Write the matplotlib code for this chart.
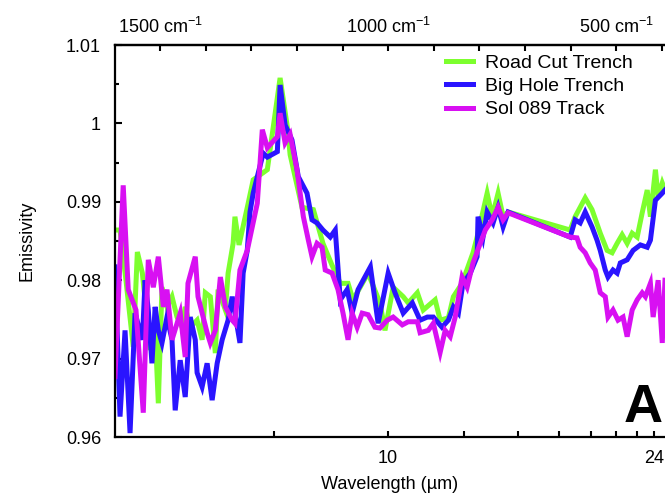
import numpy as np
import matplotlib.pyplot as plt
from matplotlib.ticker import MultipleLocator, FixedLocator, FuncFormatter

plt.rcParams['font.family'] = ['Liberation Sans', 'DejaVu Sans']
plt.rcParams['mathtext.fontset'] = 'custom'
plt.rcParams['mathtext.rm'] = 'Liberation Sans'
plt.rcParams['mathtext.it'] = 'Liberation Sans:italic'

# 数据: 波数 (cm-1) 和 发射率
wn_road = [1600, 1588, 1575, 1559, 1550, 1539, 1522, 1511, 1504, 1496, 1485, 1474, 1463,
           1452, 1445, 1434, 1419, 1408, 1401, 1390, 1379, 1373, 1357, 1351, 1340, 1336,
           1327, 1307, 1296, 1265, 1237, 1221, 1215, 1189, 1164, 1143, 1123, 1105, 1088,
           1077, 1044, 1018, 1007, 989, 967, 956, 936, 923, 897, 886, 868, 857, 838, 814,
           805, 783, 772, 759, 748, 737, 601, 590, 568, 553, 535, 520, 509, 498, 487, 476,
           465, 454, 443, 432, 425, 414, 408, 399, 393]
em_road = [0.9864, 0.9864, 0.9800, 0.9715, 0.9836, 0.9809, 0.9711, 0.9736, 0.9643, 0.9791,
           0.9766, 0.9779, 0.9753, 0.9740, 0.9766, 0.9740, 0.9749, 0.9724, 0.9784, 0.9779,
           0.9707, 0.9788, 0.9762, 0.9809, 0.9847, 0.9881, 0.9845, 0.9898, 0.9928, 0.9941,
           1.0058, 0.9995, 0.9960, 0.9893, 0.9890, 0.9847, 0.9819, 0.9796, 0.9796, 0.9775,
           0.9809, 0.9771, 0.9736, 0.9791, 0.9779, 0.9771, 0.9784, 0.9762, 0.9775, 0.9749,
           0.9752, 0.9779, 0.9796, 0.9835, 0.9855, 0.9911, 0.9881, 0.9911, 0.9881, 0.9887,
           0.9864, 0.9881, 0.9905, 0.9890, 0.9860, 0.9838, 0.9835, 0.9847, 0.9858, 0.9847,
           0.9860, 0.9855, 0.9886, 0.9915, 0.9881, 0.9941, 0.9906, 0.9924, 0.9915]

wn_hole = [1599, 1588, 1577, 1566, 1555, 1539, 1533, 1526, 1518, 1511, 1504, 1496, 1485,
           1474, 1467, 1456, 1445, 1434, 1423, 1419, 1408, 1397, 1386, 1375, 1364, 1351,
           1342, 1325, 1318, 1309, 1303, 1296, 1274, 1265, 1243, 1237, 1226, 1211, 1197,
           1178, 1167, 1156, 1143, 1127, 1116, 1105, 1090, 1079, 1066, 1039, 1022, 1000,
           985, 967, 947, 930, 914, 901, 882, 868, 857, 846, 836, 820, 805, 803, 792, 783,
           770, 759, 748, 737, 601, 590, 579, 568, 553, 542, 535, 524, 518, 507, 498, 491,
           476, 463, 447, 432, 425, 414, 399, 393]
em_hole = [0.9817, 0.9626, 0.9736, 0.9605, 0.9758, 0.9724, 0.9800, 0.9762, 0.9694, 0.9766,
           0.9736, 0.9720, 0.9753, 0.9724, 0.9634, 0.9698, 0.9651, 0.9753, 0.9724, 0.9682,
           0.9664, 0.9694, 0.9647, 0.9694, 0.9724, 0.9749, 0.9779, 0.9720, 0.9809, 0.9838,
           0.9887, 0.9911, 0.9962, 0.9957, 0.9964, 1.0049, 0.9998, 0.9979, 0.9932, 0.9911,
           0.9877, 0.9873, 0.9864, 0.9855, 0.9864, 0.9775, 0.9788, 0.9758, 0.9788, 0.9817,
           0.9745, 0.9809, 0.9784, 0.9758, 0.9771, 0.9749, 0.9753, 0.9753, 0.9740, 0.9749,
           0.9766, 0.9758, 0.9796, 0.9809, 0.9830, 0.9881, 0.9855, 0.9887, 0.9873, 0.9893,
           0.9868, 0.9887, 0.9855, 0.9877, 0.9873, 0.9887, 0.9868, 0.9851, 0.9838, 0.9813,
           0.9804, 0.9813, 0.9809, 0.9822, 0.9826, 0.9838, 0.9845, 0.9842, 0.9851, 0.9902,
           0.9911, 0.9915]

wn_sol = [1599, 1581, 1570, 1553, 1537, 1526, 1515, 1504, 1493, 1485, 1474, 1456, 1445,
          1439, 1423, 1417, 1397, 1390, 1379, 1368, 1357, 1342, 1336, 1325, 1309, 1287,
          1276, 1265, 1243, 1237, 1226, 1215, 1200, 1186, 1175, 1167, 1156, 1145, 1138,
          1123, 1110, 1099, 1088, 1079, 1068, 1057, 1044, 1029, 1018, 1002, 989, 969, 956,
          936, 930, 912, 901, 886, 875, 864, 853, 838, 827, 814, 798, 787, 772, 759, 748,
          737, 601, 586, 579, 568, 557, 546, 535, 524, 518, 507, 496, 485, 476, 465, 454,
          443, 436, 425, 419, 408, 399, 393]
em_sol = [0.9677, 0.9921, 0.9788, 0.9762, 0.9631, 0.9826, 0.9791, 0.9830, 0.9766, 0.9788,
          0.9724, 0.9758, 0.9702, 0.9796, 0.9830, 0.9779, 0.9733, 0.9720, 0.9736, 0.9804,
          0.9766, 0.9749, 0.9745, 0.9813, 0.9838, 0.9898, 0.9992, 0.9969, 0.9983, 1.0013,
          0.9975, 0.9986, 0.9941, 0.9881, 0.9851, 0.9830, 0.9847, 0.9842, 0.9813, 0.9809,
          0.9788, 0.9758, 0.9724, 0.9758, 0.9740, 0.9758, 0.9756, 0.9740, 0.9739, 0.9749,
          0.9753, 0.9743, 0.9747, 0.9747, 0.9733, 0.9736, 0.9745, 0.9708, 0.9736, 0.9728,
          0.9753, 0.9804, 0.9791, 0.9822, 0.9847, 0.9864, 0.9877, 0.9893, 0.9877, 0.9886,
          0.9855, 0.9854, 0.9842, 0.9835, 0.9822, 0.9813, 0.9784, 0.9779, 0.9753, 0.9762,
          0.9749, 0.9753, 0.9728, 0.9762, 0.9775, 0.9784, 0.9779, 0.9796, 0.9753, 0.9800,
          0.9720, 0.9800]

# 波长刻度 (um)
wl_major = [10, 24]
wl_minor = [8, 12, 14, 16, 18, 20, 22]
wn_top = [1500, 1000, 500]

fig = plt.figure(figsize=(6.65, 4.98), dpi=100)
ax = fig.add_axes([115 / 665, 61 / 498, 550 / 665, 392 / 498])

ax.plot(wn_road, em_road, color='#7dff2e', lw=3.6, label='Road Cut Trench', solid_joinstyle='miter')
ax.plot(wn_hole, em_hole, color='#2a14ff', lw=3.6, label='Big Hole Trench', solid_joinstyle='miter')
ax.plot(wn_sol, em_sol, color='#d810f2', lw=3.6, label='Sol 089 Track', solid_joinstyle='miter')

ax.set_xlim(1599, 393)
ax.set_ylim(0.96, 1.01)
for s in ['left', 'bottom', 'top']:
    ax.spines[s].set_linewidth(1.6)
ax.spines['right'].set_visible(False)

ax.yaxis.set_major_locator(MultipleLocator(0.01))
ax.yaxis.set_minor_locator(MultipleLocator(0.005))
ax.yaxis.set_major_formatter(FuncFormatter(lambda v, _: f'{round(v, 2):g}'))
ax.tick_params(axis='y', which='major', direction='in', length=5, width=1.5, labelsize=13, pad=10)
ax.tick_params(axis='y', which='minor', direction='in', length=3, width=1.5, right=False)
ax.tick_params(axis='y', right=False)

ax.set_xticks([10000 / w for w in wl_major], labels=[str(w) for w in wl_major])
ax.xaxis.set_minor_locator(FixedLocator([10000 / w for w in wl_minor]))
ax.tick_params(axis='x', which='both', direction='in', length=4, width=1.5, labelsize=13, pad=9, top=False)

sec = ax.secondary_xaxis('top')
sec.set_xticks(wn_top, labels=[f'{w} cm$^{{-1}}$' for w in wn_top])
sec.xaxis.set_minor_locator(MultipleLocator(100))
sec.tick_params(which='both', direction='in', length=4, width=1.5, labelsize=13, pad=6)
sec.spines['top'].set_linewidth(1.6)

ax.set_xlabel('Wavelength (µm)', fontsize=13)
ax.xaxis.set_label_coords(0.5, -0.1)
ax.set_ylabel('Emissivity', fontsize=13)
ax.yaxis.set_label_coords(-0.145, 0.5)

ax.legend(loc='upper left', bbox_to_anchor=(446 / 665, 1 - 54 / 498), bbox_transform=fig.transFigure,
          frameon=False, fontsize=14, handlelength=1.4, handletextpad=0.62, labelspacing=0.3,
          borderpad=0, borderaxespad=0)

fig.text(643 / 665, 1 - 422 / 498, 'A', fontsize=39, fontweight='bold', ha='center', va='baseline')

fig.savefig('out.png', dpi=100)
